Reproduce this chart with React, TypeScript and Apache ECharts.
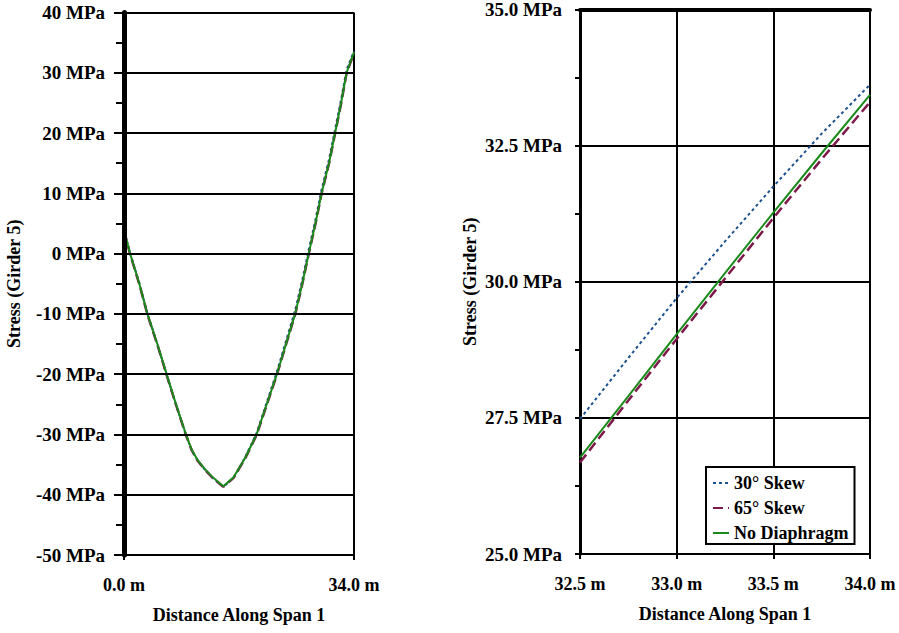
import React, { useEffect, useRef } from "react";
import * as echarts from "echarts";

// ---------- data ----------
const seriesNames = ["30° Skew", "65° Skew", "No Diaphragm"];

// Left chart: full span (m)
const leftX = [0, 0.9, 2.27, 3.46, 4.93, 6.3, 7.69, 9.16, 10.0, 10.85, 12.0, 13.2, 14.68, 16.2, 17.9, 19.6, 21.1, 22.6, 24.0, 25.3, 26.35, 27.3, 28.3, 29.2, 30.3, 31.2, 32.1, 32.9, 34.0];
const leftSkew30 = [4.0, 0.1, -4.9, -9.9, -15.0, -20.1, -25.1, -30.1, -32.6, -34.3, -35.9, -37.3, -38.7, -37.2, -33.8, -29.8, -24.7, -19.6, -14.3, -9.4, -4.4, 0.6, 5.6, 10.6, 15.6, 20.6, 25.6, 30.5, 33.6];
const leftSkew65 = [3.8, -0.1, -5.1, -10.1, -15.1, -20.1, -25.1, -30.1, -32.6, -34.3, -35.9, -37.3, -38.7, -37.2, -34.0, -30.1, -25.1, -20.1, -14.9, -10.1, -5.1, -0.1, 4.9, 9.9, 14.9, 19.9, 24.9, 29.9, 33.3];
const leftNoDiaph = [3.9, 0, -5, -10, -15, -20, -25, -30, -32.5, -34.2, -35.8, -37.2, -38.6, -37.1, -33.9, -30, -25, -20, -14.8, -10, -5, 0, 5, 10, 15, 20, 25, 30, 33.4];

// Right chart: zoom on end of span (m)
const rightX = [32.5, 32.75, 33.0, 33.25, 33.5, 33.75, 34.0];
const rightSkew30 = [27.48, 28.6, 29.7, 30.74, 31.75, 32.72, 33.62];
const rightSkew65 = [26.68, 27.82, 28.95, 30.06, 31.17, 32.25, 33.3];
const rightNoDiaph = [26.77, 27.9, 29.04, 30.16, 31.27, 32.36, 33.43];

const xTitle = "Distance Along Span 1";
const yTitle = "Stress (Girder 5)";

// ---------- styles ----------
const FONT = "Liberation Serif";
const colors = ["#1c5190", "#7d1a4a", "#1a8a1a"];
const dashes: any[] = [[3, 3], [10, 5], "solid"];
const widths = [2, 2.5, 2];

const txt = { fontFamily: FONT, fontWeight: "bold" as const, fontSize: 18, color: "#000" };
const tickTxt = { ...txt, fontSize: 19 };

export default function App() {
  const ref = useRef<HTMLDivElement>(null);
  useEffect(() => {
    if (!ref.current) return;
    const chart = echarts.init(ref.current, undefined, { renderer: "svg" });

    const pair = (xs: number[], ys: number[]) => xs.map((x, i) => [x, ys[i]]);
    const leftSets = [leftSkew30, leftSkew65, leftNoDiaph];
    const rightSets = [rightSkew30, rightSkew65, rightNoDiaph];

    const mkSeries = (xs: number[], sets: number[][], idx: number) =>
      sets.map((ys, i) => ({
        type: "line",
        name: seriesNames[i],
        xAxisIndex: idx,
        yAxisIndex: idx,
        data: pair(xs, ys),
        showSymbol: false,
        symbol: "none",
        color: colors[i],
        lineStyle: { color: colors[i], width: widths[i], type: dashes[i] },
        z: 3 + i,
      }));

    const blackLine = (w: number) => ({ lineStyle: { color: "#000", width: w } });

    chart.setOption({
      animation: false,
      backgroundColor: "#fff",
      grid: [
        { left: 124, right: 545, top: 12.5, bottom: 78 },
        { left: 580, right: 29, top: 9, bottom: 79 },
      ],
      legend: {
        data: seriesNames,
        orient: "vertical",
        left: 706,
        top: 467,
        padding: [7, 6, 2, 6],
        itemWidth: 16,
        itemHeight: 14,
        itemGap: 7,
        itemStyle: { opacity: 0 },
        backgroundColor: "#fff",
        borderColor: "#000",
        borderWidth: 2,
        borderRadius: 0,
        textStyle: { ...txt },
      },
      xAxis: [
        {
          type: "value",
          gridIndex: 0,
          min: 0,
          max: 34,
          interval: 34,
          name: xTitle,
          nameLocation: "middle",
          nameGap: 51,
          nameTextStyle: { ...txt, verticalAlign: "top" },
          axisLine: { show: true, onZero: false, ...blackLine(2) },
          axisTick: { show: true, length: 5, ...blackLine(2) },
          splitLine: { show: true, ...blackLine(2) },
          axisLabel: { ...txt, margin: 21, formatter: (v: number) => `${v.toFixed(1)} m` },
        },
        {
          type: "value",
          gridIndex: 1,
          min: 32.5,
          max: 34,
          interval: 0.5,
          name: xTitle,
          nameLocation: "middle",
          nameGap: 51,
          nameTextStyle: { ...txt, verticalAlign: "top" },
          axisLine: { show: true, onZero: false, ...blackLine(2) },
          axisTick: { show: true, length: 5, ...blackLine(2) },
          splitLine: { show: true, ...blackLine(2) },
          axisLabel: { ...txt, margin: 21, formatter: (v: number) => `${v.toFixed(1)} m` },
        },
        {
          type: "value",
          gridIndex: 1,
          position: "top",
          min: 32.5,
          max: 34,
          axisLine: { show: true, onZero: false, ...blackLine(4) },
          axisTick: { show: false },
          axisLabel: { show: false },
          splitLine: { show: false },
        },
      ],
      yAxis: [
        {
          type: "value",
          gridIndex: 0,
          min: -50,
          max: 40,
          interval: 10,
          name: yTitle,
          nameLocation: "middle",
          nameGap: 101,
          nameTextStyle: { ...txt },
          z: 10,
          axisLine: { show: true, onZero: false, ...blackLine(5) },
          axisTick: { show: true, length: 10, ...blackLine(2) },
          minorTick: { show: true, splitNumber: 2, length: 8, ...blackLine(2) },
          splitLine: { show: true, ...blackLine(2) },
          axisLabel: { ...tickTxt, margin: 19, formatter: (v: number) => `${v} MPa` },
        },
        {
          type: "value",
          gridIndex: 1,
          min: 25,
          max: 35,
          interval: 2.5,
          name: yTitle,
          nameLocation: "middle",
          nameGap: 101,
          nameTextStyle: { ...txt },
          axisLine: { show: true, onZero: false, ...blackLine(3) },
          axisTick: { show: true, length: 5, ...blackLine(2) },
          minorTick: { show: true, splitNumber: 2, length: 5, ...blackLine(2) },
          splitLine: { show: true, ...blackLine(2) },
          axisLabel: { ...tickTxt, margin: 18, formatter: (v: number) => `${v.toFixed(1)} MPa` },
        },
      ],
      series: [...mkSeries(leftX, leftSets, 0), ...mkSeries(rightX, rightSets, 1)],
    });

    return () => chart.dispose();
  }, []);

  return (
    <div
      ref={ref}
      style={{ position: "fixed", left: 0, top: 0, width: 899, height: 633, background: "#fff" }}
    />
  );
}
